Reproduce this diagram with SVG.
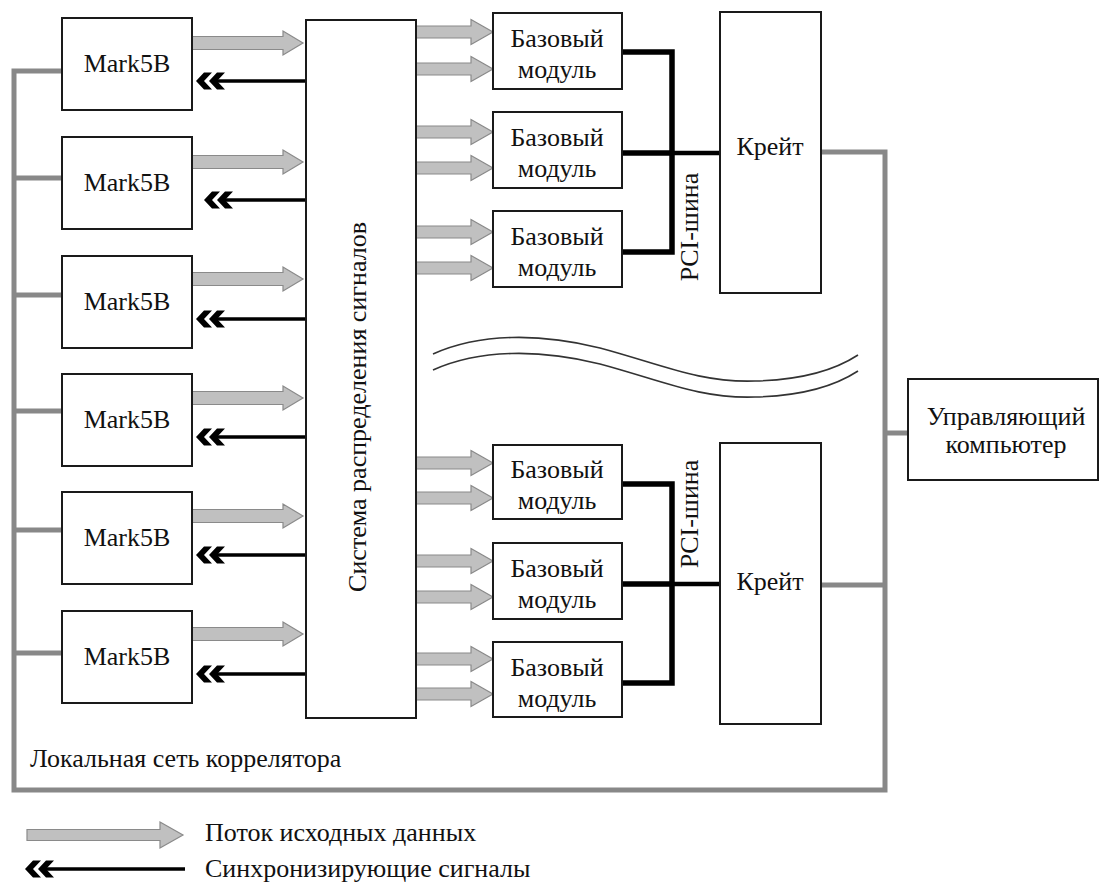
<svg xmlns="http://www.w3.org/2000/svg" xmlns:xlink="http://www.w3.org/1999/xlink" width="1099" height="883" viewBox="0 0 1099 883">
<style>
.box{fill:#fff;stroke:#1a1a1a;stroke-width:2}
.t{font-family:"Liberation Serif","DejaVu Serif",serif;font-size:26px;fill:#111}
.c{text-anchor:middle}
.net{fill:none;stroke:#888;stroke-width:5}
.bus{fill:none;stroke:#000;stroke-width:5.5}
.ga{fill:#c0c0c0;stroke:#8a8a8a;stroke-width:1.2}
.sync{stroke:#000;stroke-width:3.5}
.wave{fill:none;stroke:#333;stroke-width:1.6}
</style>
<defs>
<path id="mk" class="ga" d="M0,-6.5 H91 V-12 L111,0 L91,12 V6.5 H0 Z"/>
<path id="ba" class="ga" d="M0,-6 H55 V-12.5 L77,0 L55,12.5 V6 H0 Z"/>
<g id="chev">
<polygon points="0,0 8,-8.5 16,-8.5 8,0 16,8.5 8,8.5" fill="#000"/>
<polygon points="13,0 21,-8.5 29,-8.5 21,0 29,8.5 21,8.5" fill="#000"/>
</g>
</defs>

<g id="connectors">
<path class="net" d="M62,71 H14 V790 H885 V152 H821"/>
<path class="net" d="M14,178 H62 M14,295 H62 M14,411 H62 M14,530 H62 M14,653 H62"/>
<path class="net" d="M821,585 H885 M885,433 H908"/>
<path class="bus" d="M622,52 H672 V252 H622 M622,153 H672"/>
<path class="bus" style="stroke-width:4.5" d="M672,153 H720"/>
<path class="bus" d="M622,484 H672 V683 H622 M622,584 H672"/>
<path class="bus" style="stroke-width:4.5" d="M672,584 H720"/>
<use xlink:href="#mk" x="192" y="43"/>
<use xlink:href="#mk" x="192" y="162"/>
<use xlink:href="#mk" x="192" y="279"/>
<use xlink:href="#mk" x="192" y="398"/>
<use xlink:href="#mk" x="192" y="516"/>
<use xlink:href="#mk" x="192" y="634"/>
<g>
<line class="sync" x1="215" y1="81" x2="306" y2="81"/><use xlink:href="#chev" x="196" y="81"/>
<line class="sync" x1="223" y1="200" x2="306" y2="200"/><use xlink:href="#chev" x="204" y="200"/>
<line class="sync" x1="215" y1="319" x2="306" y2="319"/><use xlink:href="#chev" x="196" y="319"/>
<line class="sync" x1="215" y1="437" x2="306" y2="437"/><use xlink:href="#chev" x="196" y="437"/>
<line class="sync" x1="215" y1="555" x2="306" y2="555"/><use xlink:href="#chev" x="196" y="555"/>
<line class="sync" x1="215" y1="674" x2="306" y2="674"/><use xlink:href="#chev" x="196" y="674"/>
</g>
<use xlink:href="#ba" x="416" y="32"/>
<use xlink:href="#ba" x="416" y="69"/>
<use xlink:href="#ba" x="416" y="132"/>
<use xlink:href="#ba" x="416" y="168"/>
<use xlink:href="#ba" x="416" y="232"/>
<use xlink:href="#ba" x="416" y="268"/>
<use xlink:href="#ba" x="416" y="463"/>
<use xlink:href="#ba" x="416" y="498"/>
<use xlink:href="#ba" x="416" y="561"/>
<use xlink:href="#ba" x="416" y="597"/>
<use xlink:href="#ba" x="416" y="659"/>
<use xlink:href="#ba" x="416" y="694"/>
</g>

<g id="mark1"><rect class="box" x="62" y="18" width="130" height="92"/><text class="t c" x="127" y="72">Mark5B</text></g>
<g id="mark2"><rect class="box" x="62" y="137" width="130" height="92"/><text class="t c" x="127" y="191">Mark5B</text></g>
<g id="mark3"><rect class="box" x="62" y="256" width="130" height="92"/><text class="t c" x="127" y="310">Mark5B</text></g>
<g id="mark4"><rect class="box" x="62" y="374" width="130" height="92"/><text class="t c" x="127" y="428">Mark5B</text></g>
<g id="mark5"><rect class="box" x="62" y="492" width="130" height="92"/><text class="t c" x="127" y="546">Mark5B</text></g>
<g id="mark6"><rect class="box" x="62" y="611" width="130" height="92"/><text class="t c" x="127" y="665">Mark5B</text></g>

<g id="dist"><rect class="box" x="306" y="20" width="110" height="698"/>
<text class="t c" transform="translate(366,407) rotate(-90)">Система распределения сигналов</text></g>

<g id="base1"><rect class="box" x="493" y="13" width="129" height="76"/><text class="t c" x="557" y="47">Базовый</text><text class="t c" x="557" y="78">модуль</text></g>
<g id="base2"><rect class="box" x="493" y="112" width="129" height="76"/><text class="t c" x="557" y="146">Базовый</text><text class="t c" x="557" y="177">модуль</text></g>
<g id="base3"><rect class="box" x="493" y="211" width="129" height="76"/><text class="t c" x="557" y="245">Базовый</text><text class="t c" x="557" y="276">модуль</text></g>
<g id="base4"><rect class="box" x="493" y="445" width="129" height="74"/><text class="t c" x="557" y="478">Базовый</text><text class="t c" x="557" y="509">модуль</text></g>
<g id="base5"><rect class="box" x="493" y="543" width="129" height="76"/><text class="t c" x="557" y="577">Базовый</text><text class="t c" x="557" y="608">модуль</text></g>
<g id="base6"><rect class="box" x="493" y="642" width="129" height="75"/><text class="t c" x="557" y="676">Базовый</text><text class="t c" x="557" y="707">модуль</text></g>

<g id="crate1"><rect class="box" x="720" y="12" width="101" height="281"/><text class="t c" x="770" y="155">Крейт</text></g>
<g id="crate2"><rect class="box" x="720" y="443" width="101" height="281"/><text class="t c" x="770" y="590">Крейт</text></g>

<text class="t c" transform="translate(698,227) rotate(-90)">PCI-шина</text>
<text class="t c" transform="translate(698,514) rotate(-90)">PCI-шина</text>

<g id="computer"><rect class="box" x="908" y="379" width="190" height="101"/><text class="t c" x="1006" y="425">Управляющий</text><text class="t c" x="1006" y="453">компьютер</text></g>

<g id="break">
<path class="wave" d="M433,354 C480,333 540,333 600,348 C660,364 700,383 755,381 C800,380 835,370 858,355"/>
<path class="wave" d="M433,370 C480,349 540,349 600,364 C660,380 700,399 755,397 C800,396 835,386 858,371"/>
</g>

<text class="t" x="30" y="767">Локальная сеть коррелятора</text>

<g id="legend">
<path class="ga" d="M27,829.5 H160 V822 L183,835 L160,848 V840.5 H27 Z"/>
<text class="t" x="205" y="841">Поток исходных данных</text>
<line class="sync" x1="45" y1="869" x2="185" y2="869"/><use xlink:href="#chev" x="25" y="869"/>
<text class="t" x="205" y="877">Синхронизирующие сигналы</text>
</g>
</svg>
